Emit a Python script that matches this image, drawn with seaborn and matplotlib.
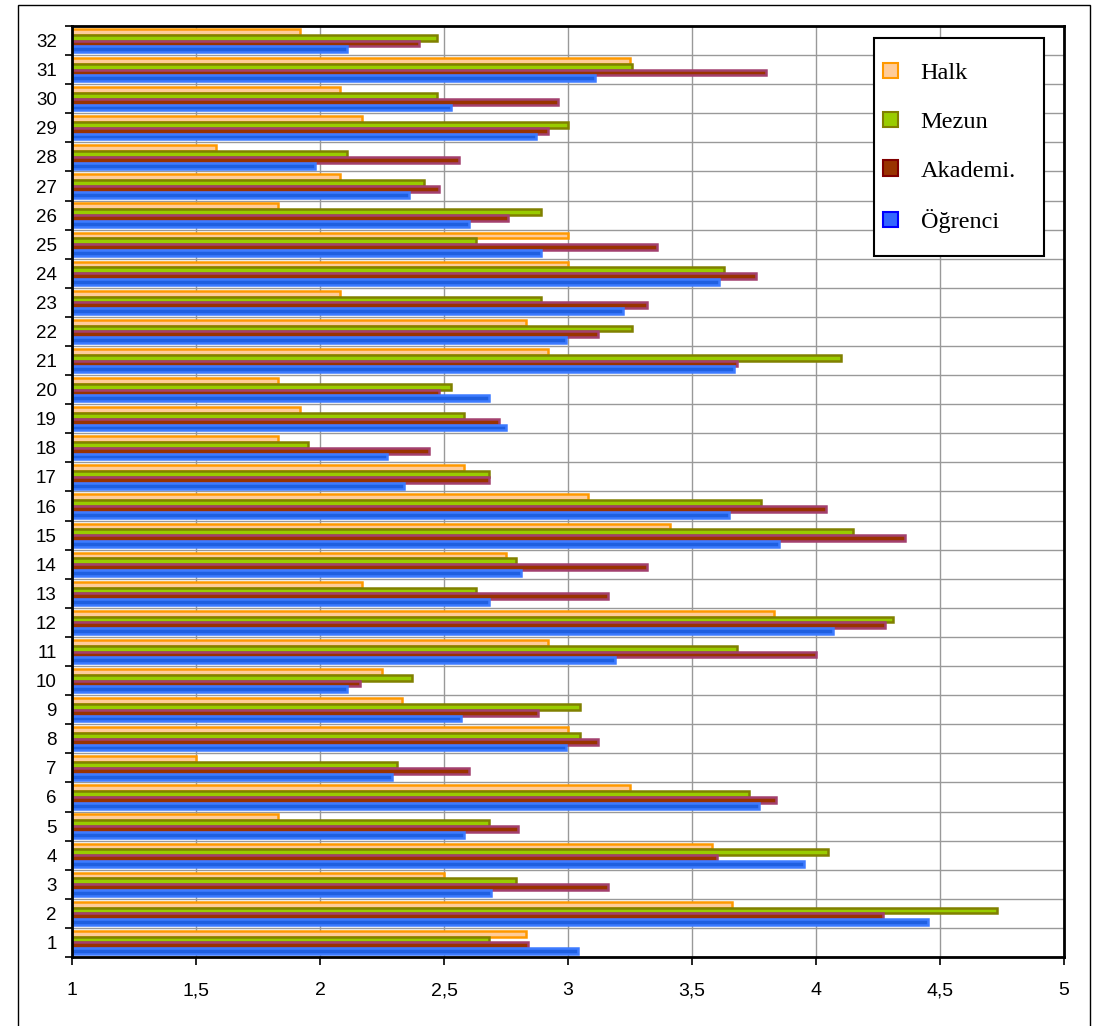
import pandas as pd
import numpy as np
import seaborn as sns
import matplotlib.pyplot as plt
from matplotlib.patches import Rectangle, Patch
from matplotlib.ticker import FuncFormatter, MultipleLocator

# categories 1..32 (bottom to top in the chart)
kategori = [str(i) for i in range(1, 33)]

# values, index 0 = category 1
halk = [2.83, 3.66, 2.50, 3.58, 1.83, 3.25, 1.50, 3.00, 2.33, 2.25,
        2.92, 3.83, 2.17, 2.75, 3.41, 3.08, 2.58, 1.83, 1.92, 1.83,
        2.92, 2.83, 2.08, 3.00, 3.00, 1.83, 2.08, 1.58, 2.17, 2.08,
        3.25, 1.92]
mezun = [2.68, 4.73, 2.79, 4.05, 2.68, 3.73, 2.31, 3.05, 3.05, 2.37,
         3.68, 4.31, 2.63, 2.79, 4.15, 3.78, 2.68, 1.95, 2.58, 2.53,
         4.10, 3.26, 2.89, 3.63, 2.63, 2.89, 2.42, 2.11, 3.00, 2.47,
         3.26, 2.47]
akademi = [2.84, 4.27, 3.16, 3.60, 2.80, 3.84, 2.60, 3.12, 2.88, 2.16,
           4.00, 4.28, 3.16, 3.32, 4.36, 4.04, 2.68, 2.44, 2.72, 2.48,
           3.68, 3.12, 3.32, 3.76, 3.36, 2.76, 2.48, 2.56, 2.92, 2.96,
           3.80, 2.40]
ogrenci = [3.04, 4.45, 2.69, 3.95, 2.58, 3.77, 2.29, 2.99, 2.57, 2.11,
           3.19, 4.07, 2.68, 2.81, 3.85, 3.65, 2.34, 2.27, 2.75, 2.68,
           3.67, 2.99, 3.22, 3.61, 2.89, 2.60, 2.36, 1.98, 2.87, 2.53,
           3.11, 2.11]

seriler = ['Halk', 'Mezun', 'Akademi.', 'Öğrenci']
yuz = ['#FFCC99', '#99CC00', '#993300', '#1F5FE0']
kenar = ['#FF9900', '#808000', '#A3406E', '#3D7BFF']
leg_yuz = ['#FFCC99', '#99CC00', '#993300', '#3366FF']
leg_kenar = ['#FF9900', '#808000', '#800000', '#0000FF']

df = pd.DataFrame({'kat': kategori, 'Halk': halk, 'Mezun': mezun,
                   'Akademi.': akademi, 'Öğrenci': ogrenci})
df = df.melt(id_vars='kat', var_name='seri', value_name='deger')

W, H = 1094, 1026
fig = plt.figure(figsize=(W / 100, H / 100), dpi=100)
fig.patch.set_facecolor('white')

# outer frame of the chart area
fig.add_artist(Rectangle((18 / W, -0.01), (1090 - 18) / W, 1.01 - 5 / H,
                         transform=fig.transFigure, fill=False,
                         edgecolor='black', linewidth=1.0))

ax = fig.add_axes([72 / W, (H - 957) / H, 992 / W, 931 / H])

sns.barplot(data=df, x='deger', y='kat', hue='seri', orient='h',
            order=kategori[::-1], hue_order=seriler, width=0.8, gap=0,
            palette=yuz, ax=ax, legend=False)

for i, cont in enumerate(ax.containers):
    for bar in cont:
        bar.set_facecolor(yuz[i])
        bar.set_edgecolor(kenar[i])
        bar.set_linewidth(1.8)

ax.set_xlim(1, 5)
ax.set_ylim(31.5, -0.5)
ax.set_xlabel('')
ax.set_ylabel('')

ax.xaxis.set_major_locator(MultipleLocator(0.5))
ax.xaxis.set_major_formatter(FuncFormatter(lambda v, p: ('%g' % v).replace('.', ',')))
ax.set_yticks(np.arange(-0.5, 32, 1), minor=True)

ax.grid(axis='x', which='major', color='#999999', linewidth=1.0)
ax.grid(axis='y', which='minor', color='#999999', linewidth=1.0)
ax.grid(axis='y', which='major', visible=False)
ax.set_axisbelow(True)

ax.tick_params(axis='y', which='major', length=0, pad=11, labelsize=13.5)
ax.tick_params(axis='y', which='minor', length=5, width=1.2, color='black')
ax.tick_params(axis='x', which='major', length=6, width=1.2, pad=12, labelsize=14)
for lab in ax.get_xticklabels():
    lab.set_family(['Liberation Sans Narrow', 'Liberation Sans', 'DejaVu Sans'])
for lab in ax.get_yticklabels():
    lab.set_family(['Liberation Sans', 'DejaVu Sans'])

for s in ax.spines.values():
    s.set_color('black')
    s.set_linewidth(2)

# legend box (drawn separately so its padding matches the original)
def ax_x(px):
    return (px - 72) / 992

def ax_y(py):
    return 1 - (py - 26) / 931

ax.add_patch(Rectangle((ax_x(874), ax_y(256)), ax_x(1044) - ax_x(874),
                       ax_y(38) - ax_y(256), transform=ax.transAxes,
                       facecolor='white', edgecolor='black', linewidth=1.5,
                       zorder=4.5, clip_on=False))

handles = [Patch(facecolor=leg_yuz[i], edgecolor=leg_kenar[i], linewidth=1.5)
           for i in range(4)]
leg = ax.legend(handles, seriler, loc='upper left',
                bbox_to_anchor=(ax_x(883), ax_y(63)),
                prop={'family': ['Liberation Serif', 'DejaVu Serif'], 'size': 17.5},
                frameon=False, handlelength=0.6, handleheight=0.6,
                labelspacing=1.13, borderpad=0, handletextpad=0.95,
                borderaxespad=0)
leg.set_zorder(5)

fig.savefig('out.png', dpi=100)
